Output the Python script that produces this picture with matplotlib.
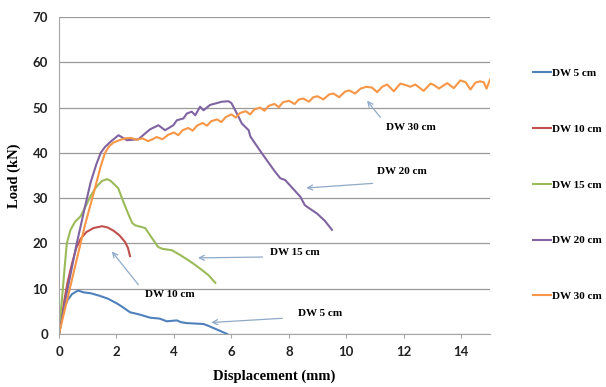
import matplotlib
matplotlib.use('Agg')
import matplotlib.pyplot as plt

# series data (displacement mm, load kN)
dw5_x = [0, 0.1, 0.2, 0.3, 0.45, 0.66, 0.85, 1.1, 1.43, 1.7, 2.0, 2.2, 2.47, 2.8, 3.17,
         3.5, 3.75, 4.1, 4.25, 4.45, 4.75, 5.03, 5.2, 5.38, 5.6, 5.85]
dw5_y = [0, 3.5, 6.0, 7.5, 8.8, 9.6, 9.2, 9.0, 8.4, 7.8, 6.8, 6.0, 4.8, 4.3, 3.6,
         3.4, 2.8, 3.0, 2.6, 2.4, 2.3, 2.2, 1.8, 1.3, 0.7, 0]

dw10_x = [0, 0.1, 0.2, 0.3, 0.45, 0.6, 0.75, 0.95, 1.2, 1.5, 1.7, 1.9, 2.1, 2.3, 2.4, 2.47]
dw10_y = [0, 4, 8, 11.5, 15.5, 19, 21, 22.5, 23.4, 23.8, 23.5, 22.8, 21.8, 20.3, 19, 17.2]

dw15_x = [0, 0.05, 0.12, 0.2, 0.27, 0.4, 0.56, 0.75, 0.95, 1.1, 1.3, 1.5, 1.67, 1.8, 2.06,
          2.25, 2.47, 2.55, 2.65, 3.0, 3.2, 3.45, 3.6, 3.93, 4.2, 4.5, 4.75, 4.98, 5.2, 5.44]
dw15_y = [0, 4, 9, 15, 20, 23, 24.8, 26, 28.5, 30.5, 32.5, 33.8, 34.2, 33.8, 32.2,
          29, 25.6, 24.5, 24, 23.4, 21.5, 19.2, 18.8, 18.5, 17.5, 16.3, 15.2, 14.1, 13, 11.3]

dw20_x = [0, 0.3, 0.6, 0.9, 1.1, 1.3, 1.45, 1.6, 1.8, 2.07, 2.36, 2.76, 3.0, 3.17, 3.46,
          3.69, 3.98, 4.1, 4.33, 4.45, 4.62, 4.74, 4.91, 5.03, 5.26, 5.44, 5.67, 5.9, 6.0,
          6.19, 6.36, 6.6, 6.66, 7.06, 7.5, 7.7, 7.87, 8.4, 8.55, 8.63, 8.98, 9.25, 9.5]
dw20_y = [0, 10, 19.5, 28, 33.5, 37.5, 40, 41.3, 42.5, 43.9, 42.8, 43.0, 44.3, 45.2, 46.1,
          45.0, 46.1, 47.2, 47.6, 48.7, 49.1, 48.3, 50.2, 49.4, 50.6, 50.9, 51.3, 51.4, 51.0,
          48.7, 46.5, 45.0, 43.6, 39.9, 36.0, 34.4, 34.0, 30.3, 28.5, 28.1, 26.6, 25.0, 23.0]

dw30_x = [0, 0.3, 0.6, 0.9, 1.2, 1.45, 1.6, 1.75, 1.9, 2.1, 2.3, 2.5, 2.7, 2.9, 3.1, 3.25,
          3.4, 3.6, 3.8, 4.0, 4.15, 4.3, 4.5, 4.65, 4.8, 5.0, 5.15, 5.3, 5.5, 5.65, 5.8,
          6.0, 6.15, 6.3, 6.5, 6.65, 6.8, 7.0, 7.15, 7.3, 7.5, 7.65, 7.8, 8.0, 8.2, 8.35,
          8.5, 8.7, 8.85, 9.0, 9.2, 9.4, 9.55, 9.75, 9.95, 10.1, 10.3, 10.5, 10.7, 10.9,
          11.07, 11.25, 11.42, 11.65, 11.88, 12.05, 12.23, 12.4, 12.69, 12.93, 13.05, 13.22,
          13.51, 13.74, 13.97, 14.15, 14.32, 14.49, 14.65, 14.78, 14.88, 15.0]
dw30_y = [0, 8, 16, 24, 31, 37, 40, 41.5, 42.3, 42.8, 43.2, 43.3, 42.9, 43.2, 42.6, 43.0,
          43.5, 43.0, 44.0, 44.5, 43.9, 45.0, 45.5, 44.9, 46.0, 46.6, 46.0, 47.0, 47.4, 46.8, 47.9,
          48.5, 47.8, 48.8, 49.2, 48.5, 49.6, 50.0, 49.3, 50.4, 50.8, 50.1, 51.2, 51.5, 50.8, 51.8,
          52.0, 51.3, 52.3, 52.5, 51.8, 52.9, 53.1, 52.3, 53.5, 53.8, 53.1, 54.2, 54.6, 54.4,
          53.4, 54.6, 55.1, 53.6, 55.3, 55.0, 54.6, 55.1, 53.7, 55.3, 55.0, 54.2,
          55.4, 54.3, 56.0, 55.6, 54.0, 55.5, 55.8, 55.6, 54.2, 56.2]

labels = ['DW 5 cm', 'DW 10 cm', 'DW 15 cm', 'DW 20 cm', 'DW 30 cm']
colors = ['#4F81BD', '#C0504D', '#9BBB59', '#8064A2', '#F79646']

# callouts: text position, arrow tail, arrow tip
note_text = [(9.1, 4.6), (3.87, 8.8), (8.2, 18.0), (11.94, 35.8), (12.23, 45.5)]
note_tail = [(7.87, 3.5), (2.82, 10.4), (7.18, 17.0), (11.01, 33.3), (11.24, 47.4)]
note_tip = [(5.2, 2.5), (1.78, 18.7), (4.74, 16.8), (8.51, 32.2), (10.66, 52.0)]

serif = 'Liberation Serif'

fig = plt.figure(figsize=(6.06, 3.87), dpi=100)
ax = fig.add_axes([0.0974, 0.137, 0.7112, 0.819])

series = [(dw5_x, dw5_y), (dw10_x, dw10_y), (dw15_x, dw15_y), (dw20_x, dw20_y), (dw30_x, dw30_y)]
for (xs, ys), lab, c in zip(series, labels, colors):
    ax.plot(xs, ys, color=c, lw=1.5, label=lab)

ax.set_xlim(0, 15)
ax.set_ylim(0, 70)
ax.set_xticks(range(0, 15, 2))
ax.set_yticks(range(0, 71, 10))
ax.yaxis.grid(True, color='#9A9A9A', lw=0.9)
ax.set_axisbelow(True)
for s in ['top', 'right']:
    ax.spines[s].set_visible(False)
for s in ['left', 'bottom']:
    ax.spines[s].set_color('#A6A6A6')
ax.tick_params(axis='y', length=0, pad=8)
ax.tick_params(axis='x', length=3, color='#A6A6A6', pad=6)
for t in ax.get_xticklabels() + ax.get_yticklabels():
    t.set_fontfamily('Lato')
    t.set_fontweight('bold')
    t.set_fontsize(9.5)
    t.set_color('#222222')

ax.set_xlabel('Displacement (mm)', fontfamily=serif, fontweight='bold', fontsize=10.5, labelpad=8)
ax.set_ylabel('Load (kN)', fontfamily=serif, fontweight='bold', fontsize=10.5, labelpad=8)

for lab, (tx, ty), tail, tip in zip(labels, note_text, note_tail, note_tip):
    ax.text(tx, ty, lab, fontfamily=serif, fontweight='bold', fontsize=8,
            ha='center', va='center')
    ax.annotate('', xy=tip, xytext=tail,
                arrowprops=dict(arrowstyle='->', color='#8FAAC9', lw=0.9, mutation_scale=9))

leg = fig.legend(loc='upper left', bbox_to_anchor=(0.863, 0.85), frameon=False,
                 prop={'family': serif, 'weight': 'bold', 'size': 8},
                 handlelength=1.6, handletextpad=0.1, labelspacing=4.15)

fig.savefig('out.png', dpi=100)
